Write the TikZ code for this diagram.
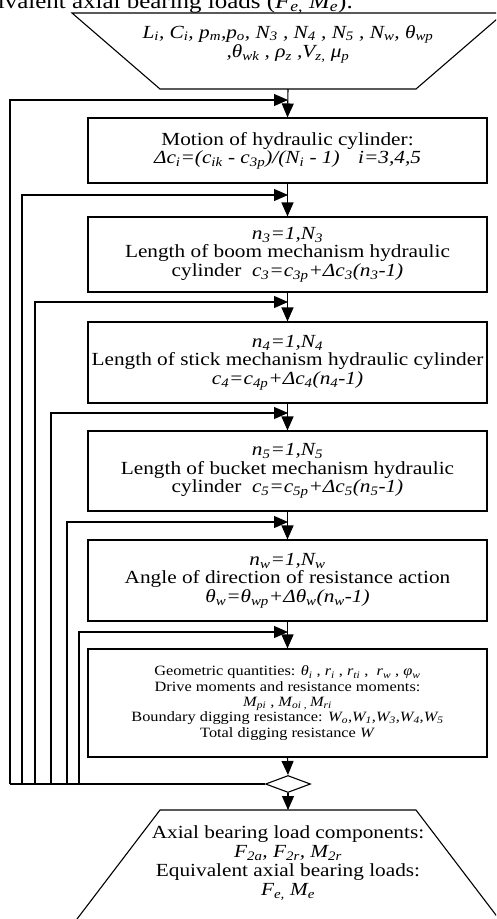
\documentclass[tikz,border=0pt]{standalone}
\usepackage{fontspec}
\setmainfont{Liberation Serif}[FakeStretch=1.15]
\usetikzlibrary{arrows.meta,positioning,shapes.geometric}
\newcommand{\sbs}[1]{\textsubscript{#1}}
\newcommand{\bfs}{\fontsize{18.5}{18.5}\selectfont}
\newcommand{\sfs}{\fontsize{14.2}{15.3}\selectfont}
\begin{document}
\begin{tikzpicture}[x=1pt,y=-1pt,
  proc/.style={draw,line width=1.1pt,minimum width=399pt,inner sep=2pt,align=center,font=\bfs},
  dec/.style={draw,diamond,minimum width=45pt,minimum height=17pt,inner sep=0pt,line width=1.1pt},
  txt/.style={align=center,font=\bfs,inner sep=0pt},
  flow/.style={line width=1.1pt,-{Triangle[length=14pt,width=12pt]}},
  wire/.style={line width=1.1pt}]
\useasboundingbox (0,0) rectangle (496,919);
\clip (0,0) rectangle (496,919);
% cut caption line above the chart
\node[anchor=base east,font=\fontsize{21.7}{21.7}\selectfont,inner sep=0pt] (cap) at (353,8)
  {equivalent axial bearing loads (\textit{F\sbs{e,} M\sbs{e}}).};
% input (top) and output (bottom, runs off the page)
\draw[wire] (72,13) -- (504,13) -- (416,89) -- (160,89) -- cycle;
\coordinate (inp) at (288,89);
\node[txt,font=\fontsize{18.5}{17}\selectfont] (inptxt) at (288,44)
  {\textit{L\sbs{i}, C\sbs{i}, p\sbs{m},p\sbs{o}, N\sbs{3} , N\sbs{4} , N\sbs{5} , N\sbs{w}, θ\sbs{wp}}\\
   \textit{,θ\sbs{wk} , ρ\sbs{z} ,V\sbs{z,} μ\sbs{p}}};
\draw[wire] (69.4,929) -- (160,810) -- (416,810) -- (506.6,929);
\coordinate (outp) at (288,810);
\node[txt,font=\fontsize{18.5}{19}\selectfont] (outtxt) at (288,863)
  {Axial bearing load components:\\
   \textit{F\sbs{2a}, F\sbs{2r}, M\sbs{2r}}\\
   Equivalent axial bearing loads:\\
   \textit{F\sbs{e,} M\sbs{e}}};
% process boxes
\node[proc,minimum height=65pt] (b1) at (287.5,150.5)
  {Motion of hydraulic cylinder:\\
   \textit{Δc\sbs{i}=(c\sbs{ik} - c\sbs{3p})/(N\sbs{i} - 1)\quad i=3,4,5}};
\node[proc,minimum height=75pt] (b2) at (287.5,254.5)
  {\textit{n\sbs{3}=1,N\sbs{3}}\\
   Length of boom mechanism hydraulic\\
   cylinder\ \ \textit{c\sbs{3}=c\sbs{3p}+Δc\sbs{3}(n\sbs{3}-1)}};
\node[proc,minimum height=81pt] (b3) at (287.5,362.5)
  {\textit{n\sbs{4}=1,N\sbs{4}}\\
   Length of stick mechanism hydraulic cylinder\\
   \textit{c\sbs{4}=c\sbs{4p}+Δc\sbs{4}(n\sbs{4}-1)}};
\node[proc,minimum height=80pt] (b4) at (287.5,471)
  {\textit{n\sbs{5}=1,N\sbs{5}}\\
   Length of bucket mechanism hydraulic\\
   cylinder\ \ \textit{c\sbs{5}=c\sbs{5p}+Δc\sbs{5}(n\sbs{5}-1)}};
\node[proc,minimum height=81pt] (b5) at (287.5,580.5)
  {\textit{n\sbs{w}=1,N\sbs{w}}\\
   Angle of direction of resistance action\\
   \textit{θ\sbs{w}=θ\sbs{wp}+Δθ\sbs{w}(n\sbs{w}-1)}};
\node[proc,minimum height=108pt,font=\sfs] (b6) at (287.5,703)
  {Geometric quantities: \textit{θ\sbs{i}} , \textit{r\sbs{i}} , \textit{r\sbs{ti}} ,\ \ \textit{r\sbs{w}} , \textit{φ\sbs{w}}\\
   Drive moments and resistance moments:\\
   \textit{M\sbs{pi} , M\sbs{oi , }M\sbs{ri}}\\
   Boundary digging resistance: \textit{W\sbs{o},W\sbs{1},W\sbs{3},W\sbs{4},W\sbs{5}}\\
   Total digging resistance \textit{W}};
\node[dec] (dia) at (288,784) {};
% main flow
\draw[flow] (inp) -- (b1.north);
\foreach \a/\b in {b1/b2,b2/b3,b3/b4,b4/b5,b5/b6}{ \draw[flow] (\a.south) -- (\b.north); }
\draw[flow] (b6.south) -- (dia.north);
\draw[flow] (dia.south) -- (outp);
% loops back to each level
\foreach \k/\x/\y in {1/10/100,2/22/195,3/35/302,4/51/413,5/67/522,6/79/632}{
  \coordinate (j\k) at (288,\y);
  \coordinate (r\k) at (\x,784);
  \draw[flow] (r\k) |- (j\k);}
\draw[wire] (dia.west) -- (r1);
\end{tikzpicture}
\end{document}
